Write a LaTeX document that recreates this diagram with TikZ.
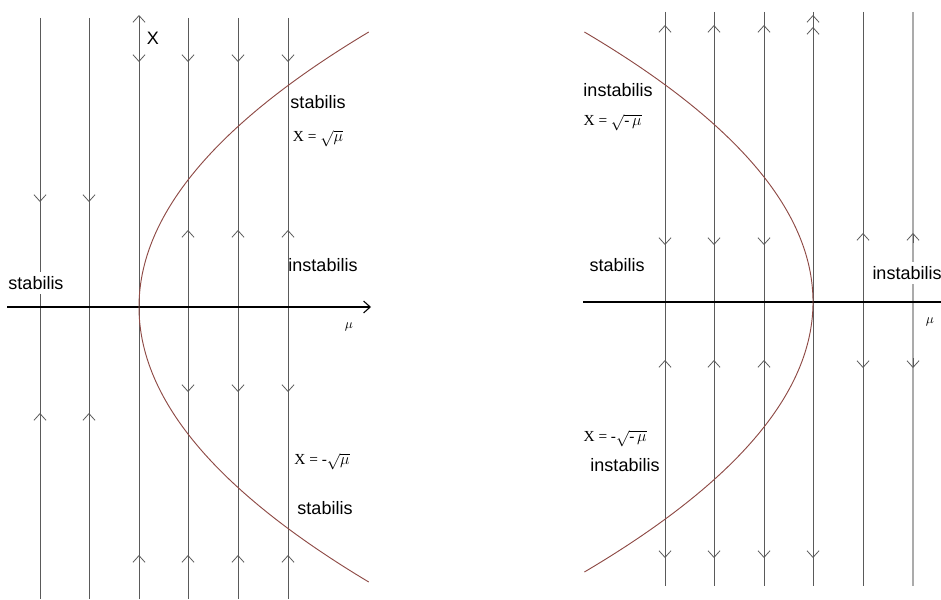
\documentclass[tikz,border=0pt]{standalone}
\usepackage{fontspec}
\setmainfont{Liberation Serif}
\setsansfont{Liberation Sans}
\usetikzlibrary{arrows.meta}
\definecolor{flowGray}{HTML}{5A5A5A}
\definecolor{paleGray}{HTML}{ABABAB}
\definecolor{branchRed}{HTML}{8E4A45}
\tikzset{
  traj/.style={draw=flowGray, line width=.6pt},
  axisline/.style={draw=black, line width=.8pt},
  barb/.style={-{Straight Barb[length=5pt,width=9pt]}, draw=flowGray, line width=.6pt},
  branch/.style={draw=branchRed, line width=.7pt},
  regime/.style={font=\sffamily\fontsize{13.5}{15}\selectfont, inner sep=1pt},
  eqn/.style={font=\rmfamily\fontsize{11.5}{13}\selectfont, inner sep=1pt},
  axlabel/.style={font=\rmfamily\fontsize{10}{11}\selectfont, inner sep=1pt}
}

\begin{document}
\begin{tikzpicture}[x=0.75pt, y=-0.75pt]
  \useasboundingbox (0,0) rectangle (941,599);

  % left panel: x' = mu - x^2
  \foreach \xx in {40,89,188,238,288}{
    \draw[traj] (\xx,18) -- (\xx,599);
  }
  \draw[traj, -{Straight Barb[length=5pt,width=9pt]}] (139,599) -- (139,15);
  \draw[axisline, -{Straight Barb[length=5pt,width=9pt]}] (7,307) -- (371,307);
  \foreach \xx/\yy in {40/202,89/202,139/62,188/62,238/62,288/62,188/392,238/392,288/392}{
    \draw[barb] (\xx,\yy-10) -- (\xx,\yy);
  }
  \foreach \xx/\yy in {40/413,89/413,188/230,238/230,288/230,139/555,188/555,238/555,288/555}{
    \draw[barb] (\xx,\yy+10) -- (\xx,\yy);
  }
  \draw[branch] plot[domain=-275:275, samples=120, smooth] ({139+49*(\x/127)^2}, {307+\x});

  \node[regime] (xlabL) at (153,38) {X};
  \node[axlabel] (mulabL) at (349,327) {$\mu$};
  \node[regime] (lsUp) at (318,102) {stabilis};
  \node[eqn] (lrootUp) at (318,139) {X = $\sqrt{\mu}$};
  \node[regime] (lins) at (323,265) {instabilis};
  \node[regime, fill=white, inner sep=3pt] (lsLeft) at (36,283) {stabilis};
  \node[eqn] (lrootDn) at (322,462) {X = -$\sqrt{\mu}$};
  \node[regime] (lsDn) at (325,508) {stabilis};

  % right panel: x' = mu + x^2
  \foreach \xx in {665,714,764,813,863}{
    \draw[traj] (\xx,12) -- (\xx,586);
  }
  \draw[draw=paleGray, line width=1.3pt] (913,12) -- (913,586);
  \draw[axisline] (583,302) -- (941,302);
  \foreach \xx/\yy in {665/25,714/25,764/25,813/15,813/27,863/233,913/233,665/360,714/360,764/360}{
    \draw[barb] (\xx,\yy+10) -- (\xx,\yy);
  }
  \foreach \xx/\yy in {665/245,714/245,764/245,863/368,913/368,665/558,714/558,764/558,813/558}{
    \draw[barb] (\xx,\yy-10) -- (\xx,\yy);
  }
  \draw[branch] plot[domain=-270:270, samples=120, smooth] ({813-49*(\x/125)^2}, {302+\x});

  \node[axlabel] (mulabR) at (930,322) {$\mu$};
  \node[regime] (rinsUp) at (618,90) {instabilis};
  \node[eqn, anchor=west] (rrootUp) at (582,123) {X = $\sqrt{\mbox{-}\,\mu}$};
  \node[regime] (rs) at (617,265) {stabilis};
  \node[regime, fill=white, inner sep=3pt] (rinsRight) at (907,273) {instabilis};
  \node[eqn, anchor=west] (rrootDn) at (582,439) {X = -$\sqrt{\mbox{-}\,\mu}$};
  \node[regime] (rinsDn) at (625,465) {instabilis};
\end{tikzpicture}
\end{document}
